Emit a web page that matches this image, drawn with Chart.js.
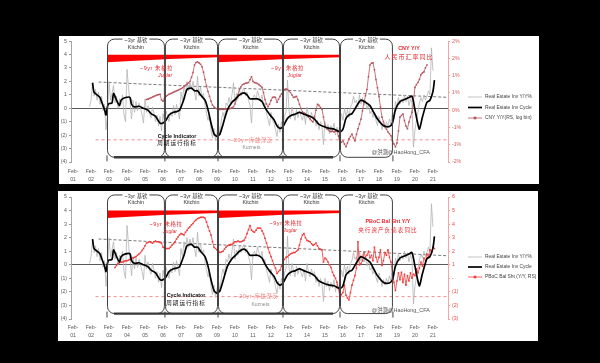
<!DOCTYPE html>
<html><head><meta charset="utf-8">
<script src="https://cdn.jsdelivr.net/npm/chart.js@4/dist/chart.umd.min.js"></script>
<style>
html,body{margin:0;padding:0;background:#000;width:600px;height:363px;overflow:hidden}
#w1{position:absolute;left:59px;top:36px;width:480px;height:148px;background:#fff}
#w2{position:absolute;left:58px;top:191px;width:480px;height:150px;background:#fff}
canvas{display:block}
</style></head><body>
<div id="w1"><canvas id="c1" width="480" height="148"></canvas></div>
<div id="w2"><canvas id="c2" width="480" height="150"></canvas></div>
<script>
// ---------- data ----------
const tickYears = [2001,2002,2003,2004,2005,2006,2007,2008,2009,2010,2011,2012,2013,2014,2015,2016,2017,2018,2019,2020,2021];
const tickLabels = ['01','02','03','04','05','06','07','08','09','10','11','12','13','14','15','16','17','18','19','20','21'];

const cycleDates = ['2002-03','2002-04','2002-06','2002-08','2002-09','2002-11','2002-12','2003-01','2003-02','2003-04','2003-05','2003-07','2003-09','2003-10','2004-01','2004-04','2004-05','2004-07','2004-10','2005-01','2005-04','2005-06','2005-09','2005-12','2006-02','2006-04','2006-06','2006-09','2006-11','2007-01','2007-04','2007-06','2007-09','2007-11','2008-01','2008-03','2008-06','2008-08','2008-10','2008-12','2009-02','2009-04','2009-06','2009-09','2009-12','2010-02','2010-05','2010-08','2010-10','2010-12','2011-02','2011-05','2011-08','2011-10','2012-01','2012-04','2012-06','2012-08','2012-10','2013-01','2013-04','2013-06','2013-09','2013-12','2014-04','2014-07','2014-10','2015-02','2015-05','2015-08','2015-12','2016-02','2016-04','2016-06','2016-08','2016-11','2017-01','2017-02','2017-05','2017-08','2017-10','2018-01','2018-04','2018-06','2018-09','2018-11','2019-01','2019-04','2019-07','2019-10','2019-12','2020-02','2020-04','2020-05','2020-07','2020-10','2020-12','2021-02','2021-03'];
const cycleValues = [1.9,1.2,1.0,0.8,0.5,-0.1,-0.5,0.15,0.35,0.4,1.1,0.6,0.2,0.6,0.8,0.8,0.3,0.1,0.15,0.0,-0.15,-0.4,-0.6,-1.1,-1.1,-0.9,-0.5,-0.3,-0.25,-0.15,0.7,1.4,1.5,1.3,1.3,1.0,0.6,-0.1,-1.1,-1.9,-2.1,-1.9,-1.2,-0.1,0.45,0.65,1.0,1.15,1.0,0.7,0.7,0.7,0.5,0.05,-0.45,-0.85,-1.3,-1.5,-1.35,-0.75,-0.5,-0.45,-0.3,-0.45,-0.6,-0.8,-1.2,-1.4,-1.5,-1.55,-1.75,-1.55,-0.75,-0.5,-0.4,0.15,0.5,0.6,0.45,0.2,-0.2,-0.8,-1.2,-1.35,-1.35,-1.1,-0.1,0.5,0.65,0.8,0.9,-0.1,-1.2,-1.55,-0.65,0.45,0.6,1.25,2.1];

const yoyStart = '2002-01';
const yoyValues = [
 0.1,0.6,1.9,0.9,1.4,0.6,1.2,0.3,0.9,-0.2,0.3,-1.6,
 -0.4,2.0,0.6,1.1,1.7,0.4,0.9,0.0,0.7,0.3,1.0,-0.5,
 -1.0,2.9,1.5,0.5,-0.8,0.6,-0.3,0.5,-0.2,0.4,0.0,-0.5,
 -1.1,0.7,-0.3,0.2,-0.4,-0.7,0.1,-0.4,-1.0,-0.5,-1.3,-0.6,
 -1.7,-0.4,-0.9,-0.2,-0.6,-1.0,-0.3,-0.6,0.2,-0.5,0.3,-0.2,
 -0.8,1.2,0.6,1.7,1.1,2.0,1.3,1.9,1.4,2.0,1.2,0.6,
 2.4,0.9,1.6,0.9,1.1,0.2,-0.4,-0.9,-0.5,-1.6,-2.2,-1.5,
 -2.4,-1.8,-1.2,-2.0,-0.8,-0.3,-0.8,0.4,0.2,0.8,0.3,1.0,
 1.9,0.4,1.1,0.7,1.4,0.9,1.3,1.5,0.9,1.2,0.6,0.2,
 -1.1,0.8,1.0,0.6,1.3,0.9,0.5,1.0,0.2,0.4,-0.4,-0.8,
 -1.3,-0.3,-0.9,-1.1,-1.6,-2.1,-1.2,-1.8,-1.0,-1.5,-0.6,-0.3,
 2.1,-0.2,-0.8,0.1,-0.4,-0.9,-0.1,-0.7,-0.2,-0.6,-0.9,-0.3,
 -1.2,0.1,-0.5,-0.9,-0.3,-0.8,-0.5,-1.3,-0.9,-1.6,-1.0,-1.4,
 -2.7,-1.0,-1.6,-1.2,-1.9,-1.3,-1.7,-1.1,-2.0,-1.4,-1.8,-1.2,
 -0.4,-0.9,0.0,-0.6,-0.1,-0.7,0.1,0.3,0.9,0.4,0.6,0.1,
 1.0,0.3,0.8,0.2,0.6,-0.1,0.3,-0.4,-0.2,-0.7,-0.3,-0.9,
 -1.3,-0.6,-1.0,-1.6,-1.1,-1.5,-1.0,-1.4,-0.8,-1.2,-0.4,-0.8,
 0.5,0.1,0.8,0.3,0.7,0.4,1.0,0.5,0.9,0.2,0.7,0.4,
 -2.9,-1.6,-0.9,-0.3,0.4,0.8,0.5,1.0,0.6,0.9,1.3,1.0,
 4.5,2.8];

const cnyStart = '2005-03';
const cnyValues = [
 0.31,0.32,0.34,0.36,0.38,0.40,0.42,0.44,0.45,0.46,
 0.30,0.26,0.34,0.40,0.43,0.46,0.48,0.50,0.52,0.54,0.56,0.58,
 0.60,0.62,0.65,0.69,0.72,0.75,0.79,0.83,0.95,1.09,1.31,1.38,
 1.40,1.37,1.33,1.26,1.10,0.89,0.70,0.54,0.40,0.26,0.15,0.09,
 0.06,0.04,0.03,0.02,0.03,0.02,0.03,0.04,0.03,0.04,0.05,0.07,
 0.10,0.18,0.31,0.45,0.60,0.68,0.74,0.76,0.78,0.79,0.80,0.88,
 0.97,0.83,0.80,0.79,0.77,0.74,0.70,0.66,0.51,0.31,0.18,0.10,
 0.17,0.28,0.37,0.38,0.37,0.23,0.32,0.40,0.47,0.54,0.60,0.61,
 0.60,0.56,0.51,0.44,0.37,0.38,0.40,0.30,0.17,0.05,-0.05,-0.08,
 -0.10,-0.15,-0.20,-0.25,-0.30,-0.34,-0.20,0.00,0.17,0.14,0.08,0.03,
 -0.20,-0.46,-0.52,-0.56,-0.60,-0.62,-0.61,-0.63,-0.61,-0.60,-0.75,-0.97,
 -0.93,-0.89,-0.98,-1.06,-0.95,-0.83,-0.76,-0.69,-0.80,-0.89,-0.70,-0.54,
 -0.40,-0.26,-0.02,0.23,0.42,0.60,0.97,1.31,1.36,1.37,1.17,0.89,
 0.65,0.40,0.09,-0.20,-0.33,-0.46,-0.55,-0.63,-0.68,-0.74,-0.89,-0.98,
 -1.06,-0.95,-0.60,-0.20,-0.15,-0.11,-0.30,-0.46,-0.54,-0.34,-0.20,-0.06,
 0.26,0.66,0.74,0.80,0.89,1.03,1.08,1.11,1.23,1.31];

const pbocStart = '2003-06';
const pbocValues = [
 0.8,0.95,1.1,1.15,1.2,1.2,1.25,
 1.3,1.3,1.35,1.4,1.45,1.5,1.55,1.6,1.7,1.8,1.9,2.05,
 2.2,2.4,2.6,2.65,2.7,2.65,2.6,2.7,2.75,2.7,2.7,2.65,
 2.6,2.3,2.25,2.2,2.2,2.2,2.3,2.45,2.55,2.7,2.9,3.05,
 3.2,3.3,3.25,3.2,3.4,3.55,3.7,3.8,3.95,4.05,4.2,4.3,
 4.4,4.45,4.5,4.5,4.5,4.45,4.15,3.8,3.5,3.2,2.7,2.3,
 2.2,2.1,2.0,1.9,1.95,2.0,2.15,2.3,2.4,2.45,2.5,2.5,
 2.6,2.7,2.7,2.75,2.7,2.7,2.75,2.8,3.0,3.3,3.6,3.9,
 3.55,3.45,3.4,3.55,3.7,3.7,3.7,3.5,3.3,2.95,2.6,2.25,
 1.9,1.6,1.3,1.0,0.75,0.35,0.5,0.6,0.9,1.2,1.4,1.55,
 1.6,1.7,1.8,1.85,1.9,1.9,2.0,2.1,2.45,2.9,3.2,3.3,
 3.0,2.8,2.75,2.7,2.55,2.45,2.5,2.6,2.4,2.2,2.15,2.1,
 1.2,1.5,1.4,1.2,1.0,0.8,0.45,0.2,0.0,-0.3,-0.75,-1.4,
 -1.2,-1.05,-0.5,-1.25,-1.45,-1.6,-1.05,-0.5,-0.15,0.2,0.75,2.7,
 1.0,1.1,1.3,1.9,1.6,1.7,2.0,1.5,1.7,1.3,2.3,1.55,
 1.2,1.55,2.1,0.95,1.3,1.9,1.7,2.1,1.55,1.2,0.3,-0.3,
 -0.9,-0.2,0.4,-0.1,0.45,-0.3,0.3,-0.5,0.2,-0.2,0.4,0.0,
 0.3,0.2,0.7,0.4,0.75,1.2,0.9,1.5,1.3,1.8,1.6,2.1,
 1.9,2.3,2.2];

const trendDates = ['2002-07','2021-11'];
const trendTopValues = [1.95, 0.82];
const trendBottomValues = [1.9, 0.67];
const kuznetsDates = ['2002-05','2021-11'];
const kuznetsValues = [-2.35, -2.35];
const kitchinBounds = [2002.97, 2006.19, 2009.14, 2012.75, 2015.92, 2018.86];
const juglarBounds = [2002.97, 2009.14, 2015.92];
const kuznetsSpan = [2002.97, 2015.92];

// ---------- helpers ----------
const FONT = '"Liberation Sans", "Noto Sans CJK SC", sans-serif';
const CJK = '"Noto Sans CJK SC", "Liberation Sans", sans-serif';
function dec(s){const p=s.split('-');return +p[0]+(+p[1]-1)/12;}
function pairs(d,v){return d.map((s,i)=>({x:dec(s),y:v[i]}));}
function monthly(start,v){const s=dec(start);return v.map((y,i)=>({x:s+i/12,y:y}));}
const paren = v => v<0 ? '('+(-v)+')' : String(v);
const parenDash = v => v===0 ? '-' : (v<0 ? '('+(-v)+')' : String(v));
const pct = v => { const s=v<0?-1:1; const r=Math.round(Math.abs(v))*s; return (r===0?0:r)+'%'; };

const cyclePlugin = {
  id:'cycles',
  afterDatasetsDraw(chart, args, o){
    const ctx=chart.ctx, xs=chart.scales.x, ys=chart.scales.y;
    const X=v=>xs.getPixelForValue(v), Y=v=>ys.getPixelForValue(v);
    ctx.save();
    // Juglar wedges
    ctx.fillStyle='#FF0000';
    for(let i=0;i<juglarBounds.length-1;i++){
      const xa=X(juglarBounds[i]), xb=X(juglarBounds[i+1]), yt=Y(o.juglarLevel);
      ctx.beginPath(); ctx.moveTo(xa,yt); ctx.lineTo(xb,yt); ctx.lineTo(xb,yt+2.5);
      ctx.quadraticCurveTo((xa+xb)/2,yt+4,xa,yt+7.5); ctx.closePath(); ctx.fill();
    }
    // Kitchin brackets
    const top=Y(o.bracketTop), bot=Y(o.bracketBottom), r=7;
    ctx.strokeStyle='#404040'; ctx.lineWidth=1;
    for(let i=0;i<kitchinBounds.length-1;i++){
      const xa=X(kitchinBounds[i])+0.5, xb=X(kitchinBounds[i+1])-0.5;
      ctx.beginPath();
      ctx.moveTo(xa+r,top); ctx.lineTo(xb-r,top); ctx.arcTo(xb,top,xb,top+r,r);
      ctx.lineTo(xb,bot-r); ctx.arcTo(xb,bot,xb-r,bot,r); ctx.lineTo(xa+r,bot);
      ctx.arcTo(xa,bot,xa,bot-r,r); ctx.lineTo(xa,top+r); ctx.arcTo(xa,top,xa+r,top,r);
      ctx.stroke();
    }
    // boundary tips at bottom
    ctx.lineWidth=1;
    kitchinBounds.forEach(b=>{const x=X(b);ctx.beginPath();ctx.moveTo(x,bot-2);ctx.lineTo(x,bot+4);ctx.stroke();});
    // Kuznets thick bottom
    ctx.lineWidth=2.4; ctx.strokeStyle='#3a3a3a';
    ctx.beginPath(); ctx.moveTo(X(kuznetsSpan[0])+r,bot); ctx.lineTo(X(kuznetsSpan[1])-r,bot); ctx.stroke();
    // Kitchin labels
    ctx.textAlign='center'; ctx.textBaseline='middle';
    for(let i=0;i<kitchinBounds.length-1;i++){
      const xm=(X(kitchinBounds[i])+X(kitchinBounds[i+1]))/2;
      ctx.font='5.4px '+FONT;
      const t='~3yr 基钦'; const w=ctx.measureText(t).width+4;
      ctx.fillStyle='#fff'; ctx.fillRect(xm-w/2,top-3,w,6.5);
      ctx.fillStyle='#333'; ctx.fillText(t,xm,top+1.5);
      ctx.font='5.4px '+FONT; ctx.fillText('Kitchin',xm,top+o.kitchinGap);
    }
    // notes
    o.notes.forEach(n=>{
      ctx.font=n.f; ctx.fillStyle=n.c;
      ctx.letterSpacing = n.ls||'0px';
      ctx.fillText(n.t,X(n.x),Y(n.y));
    });
    ctx.letterSpacing='0px';
    // legend
    ctx.textAlign='left';
    const lx=chart.chartArea.right+20;
    o.legend.forEach((e,k)=>{
      const ds=chart.data.datasets[e];
      const y=o.legendTop+k*o.legendGap;
      ctx.strokeStyle=ds.borderColor; ctx.lineWidth=ds.borderWidth;
      ctx.beginPath(); ctx.moveTo(lx,y); ctx.lineTo(lx+14,y); ctx.stroke();
      if(ds.pointRadius>0){ctx.fillStyle=ds.borderColor; ctx.fillRect(lx+7-1.3,y-1.3,2.6,2.6);}
      ctx.font='4.9px '+FONT; ctx.fillStyle='#404040';
      ctx.fillText(ds.label,lx+17,y);
    });
    ctx.restore();
  }
};

function makeChart(id, spec){
  const datasets=[
    {label:'Real Estate Inv Cycle',data:pairs(cycleDates,cycleValues),borderColor:'#000',borderWidth:1.7,pointRadius:0,tension:0.25,yAxisID:'y',order:0},
    {label:'Real Estate Inv Y/Y%',data:monthly(yoyStart,yoyValues),borderColor:'#B4B4B4',borderWidth:0.8,pointRadius:0,yAxisID:'y',order:3},
    Object.assign({pointRadius:1.1,pointStyle:'rect',pointBorderWidth:0,borderWidth:0.8,yAxisID:'y2',order:1},spec.series),
    {label:'trend',data:pairs(trendDates,spec.trend),borderColor:'#555',borderDash:[3,2],borderWidth:0.8,pointRadius:0,yAxisID:'y',order:4},
    {label:'kuz',data:pairs(kuznetsDates,kuznetsValues),borderColor:'#F28B8B',borderDash:[3,3],borderWidth:1,pointRadius:0,yAxisID:'y',order:4}
  ];
  datasets[2].pointBackgroundColor=datasets[2].borderColor;
  const tickFont={size:5.2,family:FONT};
  return new Chart(document.getElementById(id),{
    type:'line',
    data:{datasets},
    options:{
      responsive:false,animation:false,devicePixelRatio:1,
      layout:{padding:{top:spec.padTop,left:0,right:0,bottom:0}},
      plugins:{legend:{display:false},tooltip:{enabled:false},cycles:spec.plugin},
      scales:{
        x:{type:'linear',min:2000.97,max:2021.92,
           afterBuildTicks:s=>{s.ticks=tickYears.map(y=>({value:y+1/12}));},
           afterFit:s=>{s.height=22;},
           grid:{display:false,drawTicks:false},border:{display:false},
           ticks:{font:{size:5.2,family:FONT,lineHeight:1.55},color:'#595959',padding:spec.xPad,maxRotation:0,autoSkip:false,
                  callback:(v,i)=>['Feb-',tickLabels[i]]}},
        y:{position:'left',min:-4,max:5,afterFit:s=>{s.width=spec.leftW;},
           ticks:{stepSize:1,font:tickFont,color:'#595959',padding:2,callback:paren},
           grid:{color:c=>c.tick&&c.tick.value===0?'#595959':'rgba(0,0,0,0)',lineWidth:1,drawTicks:true,tickLength:2,tickColor:'#999'},
           border:{color:'#A6A6A6'}},
        y2:{position:'right',min:spec.rMin,max:spec.rMax,afterFit:s=>{s.width=spec.rightW;},
           ticks:{stepSize:spec.rStep,font:tickFont,color:spec.rColor,padding:2,callback:spec.rFmt},
           grid:{drawOnChartArea:false,drawTicks:true,tickLength:2,tickColor:'#F4A6A6'},
           border:{color:'#F4A6A6'}}
      }
    },
    plugins:[cyclePlugin]
  });
}

const RED='#E8282E';
makeChart('c1',{
  padTop:5,leftW:12,rightW:91,rMin:-1.5,rMax:2,rStep:0.5,rColor:'#D65B5B',rFmt:pct,xPad:5.5,
  trend:trendTopValues,
  series:{label:'CNY Y/Y(RS, log bin)',data:monthly(cnyStart,cnyValues),borderColor:'#B5535D'},
  plugin:{juglarLevel:3.98,bracketTop:5.15,bracketBottom:-3.65,kitchinGap:8.5,legendTop:61,legendGap:10.5,legend:[1,0,2],
    notes:[
      {t:'~9yr 朱格拉',x:2005.72,y:2.95,c:RED,f:'5.4px '+FONT,ls:'0.6px'},
      {t:'Juglar',x:2006.2,y:2.45,c:RED,f:'italic 5.2px '+FONT},
      {t:'~9yr 朱格拉',x:2013.0,y:2.95,c:RED,f:'5.4px '+FONT,ls:'0.6px'},
      {t:'Juglar',x:2013.4,y:2.4,c:RED,f:'italic 5.2px '+FONT},
      {t:'Cycle Indicator',x:2006.86,y:-2.07,c:'#111',f:'bold 5.4px '+FONT},
      {t:'周期运行指标',x:2006.86,y:-2.6,c:'#111',f:'5.6px '+CJK,ls:'1px'},
      {t:'~20yr 库兹涅茨',x:2011.0,y:-2.37,c:'#F08080',f:'5.4px '+FONT,ls:'0.6px'},
      {t:'Kuznets',x:2011.0,y:-2.96,c:'#8C8C8C',f:'5px '+FONT},
      {t:'@洪灏@HaoHong_CFA',x:2019.3,y:-3.33,c:'#555',f:'5.4px '+FONT},
      {t:'CNY Y/Y',x:2019.75,y:4.48,c:RED,f:'bold 5.4px '+FONT},
      {t:'人民币汇率同比',x:2019.75,y:3.83,c:RED,f:'6px '+CJK,ls:'1px'}
    ]}
});
makeChart('c2',{
  padTop:6,leftW:13,rightW:90,rMin:-3,rMax:6,rStep:1,rColor:'#F04848',rFmt:parenDash,xPad:4.7,
  trend:trendBottomValues,
  series:{label:'PBoC Bal Sht (Y/Y, RS)',data:monthly(pbocStart,pbocValues),borderColor:'#F03A3A'},
  plugin:{juglarLevel:4.0,bracketTop:5.15,bracketBottom:-3.6,kitchinGap:7.5,legendTop:66,legendGap:10,legend:[1,0,2],
    notes:[
      {t:'~9yr 朱格拉',x:2006.25,y:2.94,c:RED,f:'5.4px '+FONT,ls:'0.6px'},
      {t:'Juglar',x:2006.47,y:2.42,c:RED,f:'italic 5.2px '+FONT},
      {t:'~9yr 朱格拉',x:2012.92,y:3.08,c:RED,f:'5.4px '+FONT,ls:'0.6px'},
      {t:'Juglar',x:2013.14,y:2.49,c:RED,f:'italic 5.2px '+FONT},
      {t:'Cycle Indicator',x:2007.36,y:-2.3,c:'#111',f:'bold 5.4px '+FONT},
      {t:'周期运行指标',x:2007.36,y:-2.82,c:'#111',f:'5.6px '+CJK,ls:'1px'},
      {t:'~20yr 库兹涅茨',x:2011.3,y:-2.37,c:'#F08080',f:'5.4px '+FONT,ls:'0.6px'},
      {t:'Kuznets',x:2011.5,y:-2.96,c:'#8C8C8C',f:'5px '+FONT},
      {t:'@洪灏@HaoHong_CFA',x:2019.3,y:-3.4,c:'#555',f:'5.4px '+FONT},
      {t:'PBoC Bal Sht Y/Y',x:2018.58,y:3.16,c:RED,f:'bold 5.4px '+FONT},
      {t:'央行资产负债表同比',x:2018.58,y:2.57,c:RED,f:'5.6px '+CJK,ls:'1px'}
    ]}
});
</script>
</body></html>
